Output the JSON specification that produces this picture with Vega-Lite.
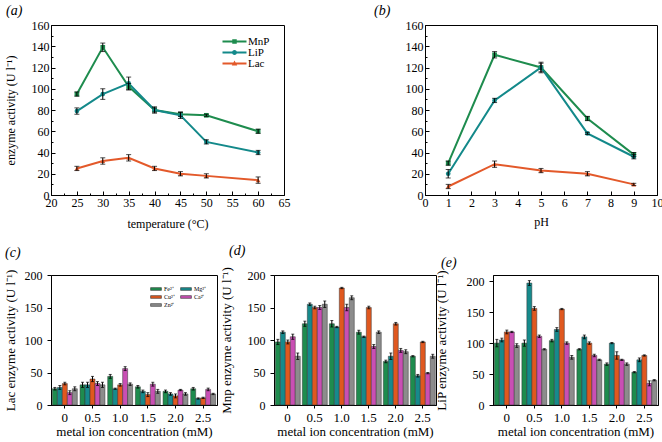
{
  "$schema": "https://vega.github.io/schema/vega-lite/v6.json",
  "background": "white",
  "padding": {"left": 3, "top": 3, "right": 0, "bottom": 0},
  "spacing": 13,
  "datasets": {
    "temp": [
      {"x": 25, "enzyme": "MnP", "v": 95, "e": 2}, {"x": 30, "enzyme": "MnP", "v": 139, "e": 4}, {"x": 35, "enzyme": "MnP", "v": 102, "e": 3}, {"x": 40, "enzyme": "MnP", "v": 80, "e": 2}, {"x": 45, "enzyme": "MnP", "v": 76, "e": 2}, {"x": 50, "enzyme": "MnP", "v": 75, "e": 1}, {"x": 60, "enzyme": "MnP", "v": 60, "e": 2},
      {"x": 25, "enzyme": "LiP", "v": 79, "e": 3}, {"x": 30, "enzyme": "LiP", "v": 95, "e": 5}, {"x": 35, "enzyme": "LiP", "v": 105, "e": 6}, {"x": 40, "enzyme": "LiP", "v": 80, "e": 3}, {"x": 45, "enzyme": "LiP", "v": 75, "e": 3}, {"x": 50, "enzyme": "LiP", "v": 50, "e": 2}, {"x": 60, "enzyme": "LiP", "v": 40, "e": 2},
      {"x": 25, "enzyme": "Lac", "v": 25, "e": 2}, {"x": 30, "enzyme": "Lac", "v": 32, "e": 3}, {"x": 35, "enzyme": "Lac", "v": 35, "e": 3}, {"x": 40, "enzyme": "Lac", "v": 25, "e": 2}, {"x": 45, "enzyme": "Lac", "v": 20, "e": 2}, {"x": 50, "enzyme": "Lac", "v": 18, "e": 2}, {"x": 60, "enzyme": "Lac", "v": 14, "e": 3}
    ],
    "ph": [
      {"x": 1, "enzyme": "MnP", "v": 30, "e": 2}, {"x": 3, "enzyme": "MnP", "v": 132, "e": 3}, {"x": 5, "enzyme": "MnP", "v": 120, "e": 5}, {"x": 7, "enzyme": "MnP", "v": 72, "e": 2}, {"x": 9, "enzyme": "MnP", "v": 38, "e": 2},
      {"x": 1, "enzyme": "LiP", "v": 20, "e": 4}, {"x": 3, "enzyme": "LiP", "v": 89, "e": 2}, {"x": 5, "enzyme": "LiP", "v": 120, "e": 4}, {"x": 7, "enzyme": "LiP", "v": 58, "e": 1}, {"x": 9, "enzyme": "LiP", "v": 36, "e": 2},
      {"x": 1, "enzyme": "Lac", "v": 8, "e": 2}, {"x": 3, "enzyme": "Lac", "v": 29, "e": 3}, {"x": 5, "enzyme": "Lac", "v": 23, "e": 2}, {"x": 7, "enzyme": "Lac", "v": 20, "e": 2}, {"x": 9, "enzyme": "Lac", "v": 10, "e": 1}
    ],
    "lac": [
      {"c": "0", "ion": "Fe²⁺", "v": 25, "e": 2}, {"c": "0", "ion": "Mg²⁺", "v": 27, "e": 3}, {"c": "0", "ion": "Cu²⁺", "v": 33, "e": 2}, {"c": "0", "ion": "Ca²⁺", "v": 19, "e": 3}, {"c": "0", "ion": "Zn²⁺", "v": 25, "e": 3},
      {"c": "0.5", "ion": "Fe²⁺", "v": 31, "e": 4}, {"c": "0.5", "ion": "Mg²⁺", "v": 31, "e": 4}, {"c": "0.5", "ion": "Cu²⁺", "v": 40, "e": 4}, {"c": "0.5", "ion": "Ca²⁺", "v": 33, "e": 3}, {"c": "0.5", "ion": "Zn²⁺", "v": 31, "e": 4},
      {"c": "1.0", "ion": "Fe²⁺", "v": 44, "e": 3}, {"c": "1.0", "ion": "Mg²⁺", "v": 25, "e": 1}, {"c": "1.0", "ion": "Cu²⁺", "v": 31, "e": 2}, {"c": "1.0", "ion": "Ca²⁺", "v": 56, "e": 3}, {"c": "1.0", "ion": "Zn²⁺", "v": 32, "e": 2},
      {"c": "1.5", "ion": "Fe²⁺", "v": 28, "e": 2}, {"c": "1.5", "ion": "Mg²⁺", "v": 21, "e": 2}, {"c": "1.5", "ion": "Cu²⁺", "v": 16, "e": 3}, {"c": "1.5", "ion": "Ca²⁺", "v": 32, "e": 3}, {"c": "1.5", "ion": "Zn²⁺", "v": 21, "e": 3},
      {"c": "2.0", "ion": "Fe²⁺", "v": 21, "e": 2}, {"c": "2.0", "ion": "Mg²⁺", "v": 17, "e": 2}, {"c": "2.0", "ion": "Cu²⁺", "v": 14, "e": 3}, {"c": "2.0", "ion": "Ca²⁺", "v": 23, "e": 1}, {"c": "2.0", "ion": "Zn²⁺", "v": 17, "e": 2},
      {"c": "2.5", "ion": "Fe²⁺", "v": 25, "e": 2}, {"c": "2.5", "ion": "Mg²⁺", "v": 10, "e": 1}, {"c": "2.5", "ion": "Cu²⁺", "v": 11, "e": 1}, {"c": "2.5", "ion": "Ca²⁺", "v": 24, "e": 2}, {"c": "2.5", "ion": "Zn²⁺", "v": 17, "e": 1}
    ],
    "mnp": [
      {"c": "0", "ion": "Fe²⁺", "v": 97, "e": 4}, {"c": "0", "ion": "Mg²⁺", "v": 112, "e": 2}, {"c": "0", "ion": "Cu²⁺", "v": 97, "e": 3}, {"c": "0", "ion": "Ca²⁺", "v": 105, "e": 4}, {"c": "0", "ion": "Zn²⁺", "v": 75, "e": 5},
      {"c": "0.5", "ion": "Fe²⁺", "v": 125, "e": 4}, {"c": "0.5", "ion": "Mg²⁺", "v": 155, "e": 2}, {"c": "0.5", "ion": "Cu²⁺", "v": 150, "e": 2}, {"c": "0.5", "ion": "Ca²⁺", "v": 150, "e": 3}, {"c": "0.5", "ion": "Zn²⁺", "v": 155, "e": 5},
      {"c": "1.0", "ion": "Fe²⁺", "v": 125, "e": 5}, {"c": "1.0", "ion": "Mg²⁺", "v": 120, "e": 1}, {"c": "1.0", "ion": "Cu²⁺", "v": 180, "e": 1}, {"c": "1.0", "ion": "Ca²⁺", "v": 150, "e": 5}, {"c": "1.0", "ion": "Zn²⁺", "v": 165, "e": 3},
      {"c": "1.5", "ion": "Fe²⁺", "v": 112, "e": 3}, {"c": "1.5", "ion": "Mg²⁺", "v": 105, "e": 1}, {"c": "1.5", "ion": "Cu²⁺", "v": 150, "e": 2}, {"c": "1.5", "ion": "Ca²⁺", "v": 90, "e": 3}, {"c": "1.5", "ion": "Zn²⁺", "v": 112, "e": 2},
      {"c": "2.0", "ion": "Fe²⁺", "v": 67, "e": 2}, {"c": "2.0", "ion": "Mg²⁺", "v": 75, "e": 5}, {"c": "2.0", "ion": "Cu²⁺", "v": 125, "e": 2}, {"c": "2.0", "ion": "Ca²⁺", "v": 84, "e": 3}, {"c": "2.0", "ion": "Zn²⁺", "v": 82, "e": 3},
      {"c": "2.5", "ion": "Fe²⁺", "v": 75, "e": 1}, {"c": "2.5", "ion": "Mg²⁺", "v": 45, "e": 2}, {"c": "2.5", "ion": "Cu²⁺", "v": 97, "e": 1}, {"c": "2.5", "ion": "Ca²⁺", "v": 49, "e": 1}, {"c": "2.5", "ion": "Zn²⁺", "v": 75, "e": 3}
    ],
    "lip": [
      {"c": "0", "ion": "Fe²⁺", "v": 100, "e": 6}, {"c": "0", "ion": "Mg²⁺", "v": 105, "e": 3}, {"c": "0", "ion": "Cu²⁺", "v": 118, "e": 3}, {"c": "0", "ion": "Ca²⁺", "v": 118, "e": 1}, {"c": "0", "ion": "Zn²⁺", "v": 96, "e": 3},
      {"c": "0.5", "ion": "Fe²⁺", "v": 100, "e": 5}, {"c": "0.5", "ion": "Mg²⁺", "v": 197, "e": 4}, {"c": "0.5", "ion": "Cu²⁺", "v": 156, "e": 3}, {"c": "0.5", "ion": "Ca²⁺", "v": 111, "e": 2}, {"c": "0.5", "ion": "Zn²⁺", "v": 90, "e": 1},
      {"c": "1.0", "ion": "Fe²⁺", "v": 104, "e": 2}, {"c": "1.0", "ion": "Mg²⁺", "v": 122, "e": 3}, {"c": "1.0", "ion": "Cu²⁺", "v": 155, "e": 1}, {"c": "1.0", "ion": "Ca²⁺", "v": 100, "e": 2}, {"c": "1.0", "ion": "Zn²⁺", "v": 77, "e": 3},
      {"c": "1.5", "ion": "Fe²⁺", "v": 90, "e": 1}, {"c": "1.5", "ion": "Mg²⁺", "v": 110, "e": 3}, {"c": "1.5", "ion": "Cu²⁺", "v": 100, "e": 2}, {"c": "1.5", "ion": "Ca²⁺", "v": 80, "e": 2}, {"c": "1.5", "ion": "Zn²⁺", "v": 73, "e": 1},
      {"c": "2.0", "ion": "Fe²⁺", "v": 66, "e": 2}, {"c": "2.0", "ion": "Mg²⁺", "v": 100, "e": 1}, {"c": "2.0", "ion": "Cu²⁺", "v": 80, "e": 6}, {"c": "2.0", "ion": "Ca²⁺", "v": 73, "e": 1}, {"c": "2.0", "ion": "Zn²⁺", "v": 66, "e": 2},
      {"c": "2.5", "ion": "Fe²⁺", "v": 53, "e": 1}, {"c": "2.5", "ion": "Mg²⁺", "v": 73, "e": 3}, {"c": "2.5", "ion": "Cu²⁺", "v": 80, "e": 1}, {"c": "2.5", "ion": "Ca²⁺", "v": 35, "e": 4}, {"c": "2.5", "ion": "Zn²⁺", "v": 40, "e": 1}
    ]
  },
  "vconcat": [
    {
      "bounds": "flush",
      "spacing": 141,
      "hconcat": [
        {
          "width": 233, "height": 170,
          "title": {"text": "(a)", "dx": -45, "offset": 1},
          "data": {"name": "temp"},
          "encoding": {
            "x": {"field": "x", "type": "quantitative", "scale": {"domain": [20, 65], "nice": false, "zero": false},
              "axis": {"title": "temperature (°C)", "format": "d", "values": [20, 22.5, 25, 27.5, 30, 32.5, 35, 37.5, 40, 42.5, 45, 47.5, 50, 52.5, 55, 57.5, 60, 62.5, 65],
                "labelExpr": "datum.value % 5 === 0 ? datum.label : ''", "labelFlush": false, "labelOverlap": false,
                "tickSize": {"condition": {"test": "datum.value % 5 === 0", "value": -4}, "value": -2},
                "labelPadding": 6, "titlePadding": 8}},
            "y": {"field": "v", "type": "quantitative", "scale": {"domain": [0, 160], "nice": false},
              "axis": {"title": "enzyme activity (U l⁻¹)", "values": [0, 10, 20, 30, 40, 50, 60, 70, 80, 90, 100, 110, 120, 130, 140, 150, 160],
                "labelExpr": "datum.value % 20 === 0 ? datum.label : ''", "labelFlush": false, "labelOverlap": false,
                "tickSize": {"condition": {"test": "datum.value % 20 === 0", "value": -4}, "value": -2},
                "labelPadding": 6, "titlePadding": 14}}
          },
          "layer": [
            {"mark": {"type": "line", "strokeWidth": 2},
              "encoding": {"color": {"field": "enzyme", "type": "nominal", "scale": {"domain": ["MnP", "LiP", "Lac"], "range": ["#1e8c4e", "#13898a", "#e3592a"]},
                "legend": {"title": null, "orient": "none", "legendX": 185, "legendY": 11, "labelFontSize": 11, "labelOffset": 1, "symbolSize": 100, "rowPadding": -2,
                  "encode": {"symbols": {"update": {
                    "shape": {"signal": "datum.value === 'MnP' ? 'M-3.8,-0.2H1V0.2H-3.8Z M-1.85,-0.45H-0.95V0.45H-1.85Z' : datum.value === 'LiP' ? 'M-3.8,-0.2H1V0.2H-3.8Z M-0.9,0 A0.5,0.5 0 1,1 -1.9,0 A0.5,0.5 0 1,1 -0.9,0Z' : 'M-3.8,-0.2H1V0.2H-3.8Z M-1.4,-0.6L-0.85,0.4H-1.95Z'"},
                    "fill": {"signal": "datum.value === 'MnP' ? '#1e8c4e' : datum.value === 'LiP' ? '#13898a' : '#e3592a'"},
                    "stroke": {"value": "transparent"},
                    "strokeWidth": {"value": 0}}}}}}}},
            {"transform": [{"filter": "datum.enzyme === 'MnP'"}], "mark": {"type": "point", "shape": "square", "filled": true, "size": 22, "opacity": 1, "color": "#1e8c4e"}},
            {"transform": [{"filter": "datum.enzyme === 'LiP'"}], "mark": {"type": "point", "shape": "circle", "filled": true, "size": 22, "opacity": 1, "color": "#13898a"}},
            {"transform": [{"filter": "datum.enzyme === 'Lac'"}], "mark": {"type": "point", "shape": "triangle-up", "filled": true, "size": 22, "opacity": 1, "color": "#e3592a"}},
            {"mark": {"type": "errorbar", "color": "black", "ticks": {"size": 5, "color": "black"}, "rule": {"strokeWidth": 1}},
              "encoding": {"yError": {"field": "e"}}}
          ]
        },
        {
          "width": 232, "height": 170,
          "title": {"text": "(b)", "dx": -51, "offset": 1},
          "data": {"name": "ph"},
          "encoding": {
            "x": {"field": "x", "type": "quantitative", "scale": {"domain": [0, 10], "nice": false, "zero": false},
              "axis": {"title": "pH", "format": "d", "values": [0, 0.5, 1, 1.5, 2, 2.5, 3, 3.5, 4, 4.5, 5, 5.5, 6, 6.5, 7, 7.5, 8, 8.5, 9, 9.5, 10],
                "labelExpr": "datum.value % 1 === 0 ? datum.label : ''", "labelFlush": false, "labelOverlap": false,
                "tickSize": {"condition": {"test": "datum.value % 1 === 0", "value": -4}, "value": -2},
                "labelPadding": 6, "titlePadding": 8}},
            "y": {"field": "v", "type": "quantitative", "scale": {"domain": [0, 160], "nice": false},
              "axis": {"title": null, "values": [0, 10, 20, 30, 40, 50, 60, 70, 80, 90, 100, 110, 120, 130, 140, 150, 160],
                "labelExpr": "datum.value % 20 === 0 ? datum.label : ''", "labelFlush": false, "labelOverlap": false,
                "tickSize": {"condition": {"test": "datum.value % 20 === 0", "value": -4}, "value": -2},
                "labelPadding": 6}}
          },
          "layer": [
            {"mark": {"type": "line", "strokeWidth": 2},
              "encoding": {"color": {"field": "enzyme", "type": "nominal", "scale": {"domain": ["MnP", "LiP", "Lac"], "range": ["#1e8c4e", "#13898a", "#e3592a"]},
                "legend": {"title": null, "orient": "none", "legendX": 184, "legendY": 13, "labelFontSize": 11, "labelOffset": 1, "symbolSize": 100, "rowPadding": -2,
                  "encode": {"symbols": {"update": {
                    "shape": {"signal": "datum.value === 'MnP' ? 'M-3.8,-0.2H1V0.2H-3.8Z M-1.85,-0.45H-0.95V0.45H-1.85Z' : datum.value === 'LiP' ? 'M-3.8,-0.2H1V0.2H-3.8Z M-0.9,0 A0.5,0.5 0 1,1 -1.9,0 A0.5,0.5 0 1,1 -0.9,0Z' : 'M-3.8,-0.2H1V0.2H-3.8Z M-1.4,-0.6L-0.85,0.4H-1.95Z'"},
                    "fill": {"signal": "datum.value === 'MnP' ? '#1e8c4e' : datum.value === 'LiP' ? '#13898a' : '#e3592a'"},
                    "stroke": {"value": "transparent"},
                    "strokeWidth": {"value": 0}}}}}}}},
            {"transform": [{"filter": "datum.enzyme === 'MnP'"}], "mark": {"type": "point", "shape": "square", "filled": true, "size": 22, "opacity": 1, "color": "#1e8c4e"}},
            {"transform": [{"filter": "datum.enzyme === 'LiP'"}], "mark": {"type": "point", "shape": "circle", "filled": true, "size": 22, "opacity": 1, "color": "#13898a"}},
            {"transform": [{"filter": "datum.enzyme === 'Lac'"}], "mark": {"type": "point", "shape": "triangle-up", "filled": true, "size": 22, "opacity": 1, "color": "#e3592a"}},
            {"mark": {"type": "errorbar", "color": "black", "ticks": {"size": 5, "color": "black"}, "rule": {"strokeWidth": 1}},
              "encoding": {"yError": {"field": "e"}}}
          ]
        }
      ]
    },
    {
      "bounds": "flush",
      "spacing": 57,
      "hconcat": [
        {
          "width": 166, "height": 130,
          "title": {"text": "(c)", "dx": -46, "offset": 9},
          "data": {"name": "lac"},
          "encoding": {
            "x": {"field": "c", "type": "nominal", "sort": null, "scale": {"paddingInner": 0.1, "paddingOuter": 0.05},
              "axis": {"title": "metal ion concentration (mM)", "labelAngle": 0, "labelFontSize": 13, "titleFontSize": 13, "tickSize": 3, "labelPadding": 3, "titlePadding": 1}},
            "xOffset": {"field": "ion", "type": "nominal", "sort": ["Fe²⁺", "Mg²⁺", "Cu²⁺", "Ca²⁺", "Zn²⁺"], "scale": {"paddingInner": 0, "paddingOuter": 0}},
            "y": {"field": "v", "type": "quantitative", "scale": {"domain": [0, 200], "nice": false},
              "axis": {"title": "Lac enzyme activity (U l⁻¹)", "values": [0, 50, 100, 150, 200], "tickSize": 4, "labelFontSize": 12, "titleFontSize": 13, "labelPadding": 5, "titlePadding": 7}}
          },
          "layer": [
            {"mark": {"type": "bar", "stroke": "#333333", "strokeWidth": 0.5},
              "encoding": {"color": {"field": "ion", "type": "nominal", "scale": {"domain": ["Fe²⁺", "Mg²⁺", "Cu²⁺", "Ca²⁺", "Zn²⁺"], "range": ["#1e8c4e", "#168a8c", "#e0581f", "#c94fb4", "#8c8c8c"]},
                "legend": {"title": null, "orient": "none", "direction": "horizontal", "legendX": 100, "legendY": 9, "columns": 2, "labelFontSize": 6, "labelOffset": 3, "columnPadding": 4, "rowPadding": 0, "symbolSize": 81, "symbolType": "M-1.2,-0.3H1.2V0.3H-1.2Z", "symbolStrokeColor": "#333333", "symbolStrokeWidth": 0.6, "symbolOpacity": 1}}}},
            {"mark": {"type": "errorbar", "color": "black", "ticks": {"size": 3, "color": "black"}, "rule": {"strokeWidth": 1}},
              "encoding": {"yError": {"field": "e"}}}
          ]
        },
        {
          "width": 162, "height": 130,
          "title": {"text": "(d)", "dx": -45, "offset": 9},
          "data": {"name": "mnp"},
          "encoding": {
            "x": {"field": "c", "type": "nominal", "sort": null, "scale": {"paddingInner": 0.1, "paddingOuter": 0.05},
              "axis": {"title": "metal ion concentration (mM)", "labelAngle": 0, "labelFontSize": 13, "titleFontSize": 13, "tickSize": 3, "labelPadding": 3, "titlePadding": 1}},
            "xOffset": {"field": "ion", "type": "nominal", "sort": ["Fe²⁺", "Mg²⁺", "Cu²⁺", "Ca²⁺", "Zn²⁺"], "scale": {"paddingInner": 0, "paddingOuter": 0}},
            "y": {"field": "v", "type": "quantitative", "scale": {"domain": [0, 200], "nice": false},
              "axis": {"title": "Mnp enzyme activity (U l⁻¹)", "values": [0, 50, 100, 150, 200], "tickSize": 4, "labelFontSize": 12, "titleFontSize": 13, "labelPadding": 5, "titlePadding": 14}}
          },
          "layer": [
            {"mark": {"type": "bar", "stroke": "#333333", "strokeWidth": 0.5},
              "encoding": {"color": {"field": "ion", "type": "nominal", "scale": {"domain": ["Fe²⁺", "Mg²⁺", "Cu²⁺", "Ca²⁺", "Zn²⁺"], "range": ["#1e8c4e", "#168a8c", "#e0581f", "#c94fb4", "#8c8c8c"]},
                "legend": {"title": null, "orient": "none", "direction": "horizontal", "legendX": 104, "legendY": 5, "columns": 2, "labelFontSize": 6, "labelOffset": 3, "columnPadding": 4, "rowPadding": 0, "symbolSize": 81, "symbolType": "M-1.2,-0.3H1.2V0.3H-1.2Z", "symbolStrokeColor": "#333333", "symbolStrokeWidth": 0.6, "symbolOpacity": 1}}}},
            {"mark": {"type": "errorbar", "color": "black", "ticks": {"size": 3, "color": "black"}, "rule": {"strokeWidth": 1}},
              "encoding": {"yError": {"field": "e"}}}
          ]
        },
        {
          "width": 165, "height": 130,
          "title": {"text": "(e)", "dx": -52, "offset": 0},
          "data": {"name": "lip"},
          "encoding": {
            "x": {"field": "c", "type": "nominal", "sort": null, "scale": {"paddingInner": 0.1, "paddingOuter": 0.05},
              "axis": {"title": "metal ion concentration (mM)", "labelAngle": 0, "labelFontSize": 13, "titleFontSize": 13, "tickSize": 3, "labelPadding": 3, "titlePadding": 1}},
            "xOffset": {"field": "ion", "type": "nominal", "sort": ["Fe²⁺", "Mg²⁺", "Cu²⁺", "Ca²⁺", "Zn²⁺"], "scale": {"paddingInner": 0, "paddingOuter": 0}},
            "y": {"field": "v", "type": "quantitative", "scale": {"domain": [0, 210], "nice": false},
              "axis": {"title": "LiP enzyme activity (U l⁻¹)", "values": [0, 50, 100, 150, 200], "tickSize": 4, "labelFontSize": 12, "titleFontSize": 13, "labelPadding": 5, "titlePadding": 18}}
          },
          "layer": [
            {"mark": {"type": "bar", "stroke": "#333333", "strokeWidth": 0.5},
              "encoding": {"color": {"field": "ion", "type": "nominal", "scale": {"domain": ["Fe²⁺", "Mg²⁺", "Cu²⁺", "Ca²⁺", "Zn²⁺"], "range": ["#1e8c4e", "#168a8c", "#e0581f", "#c94fb4", "#8c8c8c"]},
                "legend": {"title": null, "orient": "none", "direction": "horizontal", "legendX": 106, "legendY": 4, "columns": 2, "labelFontSize": 6, "labelOffset": 3, "columnPadding": 4, "rowPadding": 0, "symbolSize": 81, "symbolType": "M-1.2,-0.3H1.2V0.3H-1.2Z", "symbolStrokeColor": "#333333", "symbolStrokeWidth": 0.6, "symbolOpacity": 1}}}},
            {"mark": {"type": "errorbar", "color": "black", "ticks": {"size": 3, "color": "black"}, "rule": {"strokeWidth": 1}},
              "encoding": {"yError": {"field": "e"}}}
          ]
        }
      ]
    }
  ],
  "resolve": {"scale": {"color": "independent"}, "legend": {"color": "independent"}},
  "config": {
    "font": "Liberation Serif",
    "view": {"stroke": "black", "strokeWidth": 1},
    "axis": {"domainColor": "black", "tickColor": "black", "labelColor": "black", "titleColor": "black", "labelFont": "Liberation Serif", "titleFont": "Liberation Serif", "titleFontWeight": "normal", "grid": false, "labelFontSize": 12, "titleFontSize": 12},
    "legend": {"labelFont": "Liberation Serif", "labelColor": "black"},
    "title": {"font": "Liberation Serif", "fontStyle": "italic", "fontWeight": "normal", "fontSize": 14, "anchor": "start", "frame": "group", "color": "black"}
  }
}
